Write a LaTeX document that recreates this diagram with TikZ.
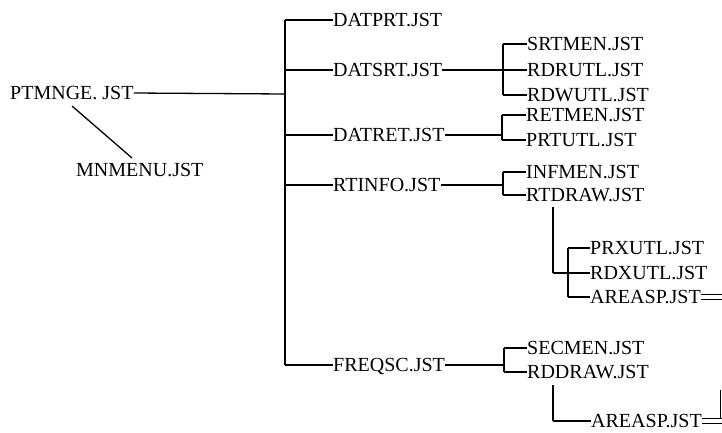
\documentclass[tikz,border=0pt]{standalone}
\usepackage{fontspec}
\setmainfont{Liberation Serif}
\begin{document}
\begin{tikzpicture}[x=1pt,y=-1pt,
  lab/.style={anchor=west,inner sep=0pt,font=\fontsize{20}{22}\selectfont,text height=12.6pt,text depth=0pt},
  vl/.style={line width=1.8pt},
  hl/.style={line width=1.3pt}]
\useasboundingbox (0,0) rectangle (722,432);
% root
\node[lab,anchor=west] (ptm) at (10,93) {PTMNGE. JST};
\node[lab] (mnm) at (76,170) {MNMENU.JST};
\coordinate (dgA) at (72,106);
\coordinate (dgB) at (132,158);
\draw[hl] (dgA) -- (dgB);
% trunk
\coordinate (t1) at (285,20);
\coordinate (t5) at (285,365);
\coordinate (tj) at (285,94);
\draw[vl] (t1) -- (t5);
\draw[hl] (ptm.east) -- (tj);
% level 1
\node[lab] (datprt) at (333,20) {DATPRT.JST};
\node[lab] (datsrt) at (333,70) {DATSRT.JST};
\node[lab] (datret) at (333,135) {DATRET.JST};
\node[lab] (rtinfo) at (333,185) {RTINFO.JST};
\node[lab] (freqsc) at (333,365) {FREQSC.JST};
\foreach \n in {datprt,datsrt,datret,rtinfo,freqsc}
  \draw[hl] (t1 |- \n.west) -- (\n.west);
% DATSRT group
\coordinate (b1) at (503,70);
\node[lab] (srtmen) at (527,44) {SRTMEN.JST};
\node[lab] (rdrutl) at (527,70) {RDRUTL.JST};
\node[lab] (rdwutl) at (527,95) {RDWUTL.JST};
\draw[hl] (datsrt.east) -- (b1);
\draw[vl] (b1 |- srtmen.west) -- (b1 |- rdwutl.west);
\foreach \n in {srtmen,rdrutl,rdwutl}
  \draw[hl] (b1 |- \n.west) -- (\n.west);
% DATRET group
\coordinate (b2) at (502,135);
\node[lab] (retmen) at (526,115) {RETMEN.JST};
\node[lab] (prtutl) at (526,140) {PRTUTL.JST};
\draw[hl] (datret.east) -- (b2);
\draw[vl] (b2 |- retmen.west) -- (b2 |- prtutl.west);
\foreach \n in {retmen,prtutl}
  \draw[hl] (b2 |- \n.west) -- (\n.west);
% RTINFO group
\coordinate (b3) at (503,185);
\node[lab] (infmen) at (526,172) {INFMEN.JST};
\node[lab] (rtdraw) at (526,195) {RTDRAW.JST};
\draw[hl] (rtinfo.east) -- (b3);
\draw[vl] (b3 |- infmen.west) -- (b3 |- rtdraw.west);
\foreach \n in {infmen,rtdraw}
  \draw[hl] (b3 |- \n.west) -- (\n.west);
% RTDRAW subgroup
\coordinate (s1) at (553,207);
\coordinate (s1b) at (553,273);
\coordinate (b4) at (568,273);
\node[lab] (prxutl) at (590,248) {PRXUTL.JST};
\node[lab] (rdxutl) at (590,273) {RDXUTL.JST};
\node[lab] (areasp1) at (590,297) {AREASP.JST};
\draw[vl] (s1) -- (s1b);
\draw[hl] (s1b) -- (b4);
\draw[vl] (b4 |- prxutl.west) -- (b4 |- areasp1.west);
\foreach \n in {prxutl,rdxutl,areasp1}
  \draw[hl] (b4 |- \n.west) -- (\n.west);
\coordinate (e1) at (722,297);
\draw[line width=0.8pt] ([yshift=-2.2pt]areasp1.east) -- ([yshift=-2.2pt]e1);
\draw[line width=0.8pt] ([yshift=2.2pt]areasp1.east) -- ([yshift=2.2pt]e1);
% FREQSC group
\coordinate (b5) at (504,365);
\node[lab] (secmen) at (527,348) {SECMEN.JST};
\node[lab] (rddraw) at (527,372) {RDDRAW.JST};
\draw[hl] (freqsc.east) -- (b5);
\draw[vl] (b5 |- secmen.west) -- (b5 |- rddraw.west);
\foreach \n in {secmen,rddraw}
  \draw[hl] (b5 |- \n.west) -- (\n.west);
% RDDRAW sub
\coordinate (s2) at (553,385);
\coordinate (s2b) at (553,421);
\node[lab] (areasp2) at (591,421) {AREASP.JST};
\draw[vl] (s2) -- (s2b);
\draw[hl] (s2b) -- (areasp2.west);
\coordinate (e2) at (722,421);
\draw[line width=0.8pt] ([yshift=-2.2pt]areasp2.east) -- ([yshift=-2.2pt]e2);
\draw[line width=0.8pt] ([yshift=2.2pt]areasp2.east) -- ([yshift=2.2pt]e2);
\coordinate (e2t) at (720,390);
\draw[line width=1pt] (e2t) -- ([yshift=2.2pt]e2 -| e2t);
\end{tikzpicture}
\end{document}
